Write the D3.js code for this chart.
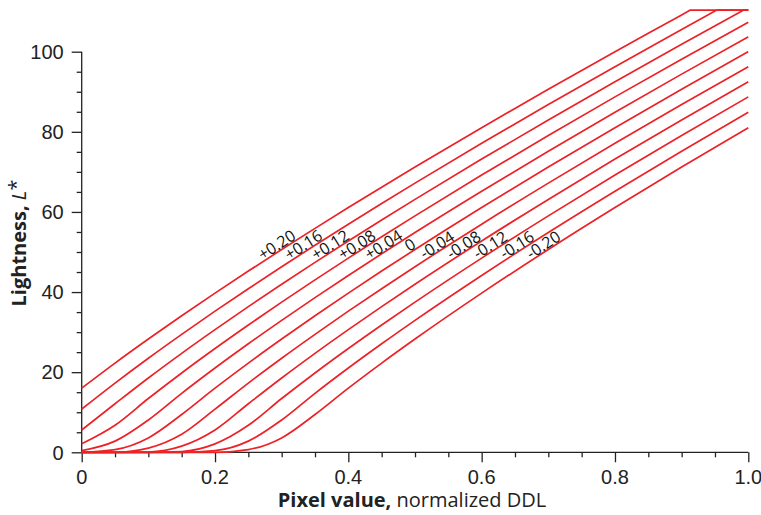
<!DOCTYPE html>
<html>
<head>
<meta charset="utf-8">
<script src="https://cdn.jsdelivr.net/npm/d3@7"></script>
<style>
  html, body { margin: 0; padding: 0; background: #ffffff; }
  svg { display: block; font-family: "Open Sans", "Noto Sans", sans-serif; }
</style>
</head>
<body>
<svg id="chart" width="761" height="515"></svg>
<script>
// ---------------- data ----------------
const pixelValue = [0, 0.05, 0.10, 0.15, 0.20, 0.25, 0.30, 0.35, 0.40, 0.45, 0.50, 0.6, 0.7, 0.8, 0.9, 1.0];
const offsetLabels = ["+0.20", "+0.16", "+0.12", "+0.08", "+0.04", "0", "-0.04", "-0.08", "-0.12", "-0.16", "-0.20"];

const lightnessP20 = [16.01, 22.27, 28.27, 34.09, 39.73, 45.24, 50.62, 55.90, 61.09, 66.18, 71.20, 81.04, 90.62, 100.00, 109.19, 110.4];
const lightnessP16 = [10.78, 17.28, 23.49, 29.45, 35.23, 40.84, 46.32, 51.69, 56.95, 62.11, 67.19, 77.13, 86.81, 96.27, 105.54, 110.4];
const lightnessP12 = [5.57, 12.11, 18.55, 24.70, 30.62, 36.36, 41.95, 47.41, 52.75, 57.99, 63.13, 73.19, 82.97, 92.51, 101.86, 110.4];
const lightnessP08 = [2.11, 6.75, 13.42, 19.80, 25.90, 31.78, 37.49, 43.05, 48.48, 53.80, 59.02, 69.21, 79.09, 88.72, 98.14, 107.37];
const lightnessP04 = [0.40, 2.79, 8.06, 14.72, 21.04, 27.09, 32.94, 38.61, 44.15, 49.55, 54.86, 65.17, 75.17, 84.90, 94.40, 103.70];
const lightnessZ00 = [0, 0.68, 3.60, 9.43, 16.01, 22.27, 28.27, 34.09, 39.73, 45.24, 50.62, 61.09, 71.20, 81.04, 90.62, 100.00];
const lightnessM04 = [0, 0.01, 1.06, 4.52, 10.78, 17.28, 23.49, 29.45, 35.23, 40.84, 46.32, 56.95, 67.19, 77.13, 86.81, 96.27];
const lightnessM08 = [0, 0, 0.08, 1.53, 5.57, 12.11, 18.55, 24.70, 30.62, 36.36, 41.95, 52.75, 63.13, 73.19, 82.97, 92.51];
const lightnessM12 = [0, 0, 0, 0.20, 2.11, 6.75, 13.42, 19.80, 25.90, 31.78, 37.49, 48.48, 59.02, 69.21, 79.09, 88.72];
const lightnessM16 = [0, 0, 0, 0, 0.40, 2.79, 8.06, 14.72, 21.04, 27.09, 32.94, 44.15, 54.86, 65.17, 75.17, 84.90];
const lightnessM20 = [0, 0, 0, 0, 0, 0.68, 3.60, 9.43, 16.01, 22.27, 28.27, 39.73, 50.62, 61.09, 71.20, 81.04];

// pixel value at which a curve reaches the 110.4 ceiling (null = never)
const clipOnset = [0.913, 0.953, 0.993, null, null, null, null, null, null, null, null];
const clipLevel = 110.4;

const xTicks = [0, 0.2, 0.4, 0.6, 0.8, 1.0];
const yTicks = [0, 20, 40, 60, 80, 100];

const allLightness = [lightnessP20, lightnessP16, lightnessP12, lightnessP08, lightnessP04, lightnessZ00,
                      lightnessM04, lightnessM08, lightnessM12, lightnessM16, lightnessM20];

// ---------------- layout ----------------
const svg = d3.select("#chart");
const x = d3.scaleLinear().domain([0, 1]).range([81.7, 748.3]);
const y = d3.scaleLinear().domain([0, 100]).range([452.3, 51.7]);
const axisColor = "#222";
const red = "#ec2227";

// x axis
const xAxis = svg.append("g").attr("transform", `translate(0,${y(0)})`);
xAxis.call(d3.axisBottom(x).tickValues(d3.range(0, 1.0001, 0.05)).tickSize(5).tickFormat(""));
xAxis.call(g => g.selectAll(".tick").filter(d => xTicks.some(t => Math.abs(t - d) < 1e-6))
  .select("line").attr("y2", 10));
xAxis.selectAll("path, line").attr("stroke", axisColor).attr("stroke-width", 1.3);
xAxis.select(".domain").attr("d", `M${x(0)},0H${x(1)}`);
xAxis.selectAll(".tlabel").data(xTicks).join("text")
  .attr("x", d => x(d)).attr("y", 31.5)
  .attr("text-anchor", "middle").attr("font-size", 20).attr("fill", axisColor)
  .text(d => d === 0 ? "0" : d3.format(".1f")(d));

// y axis
const yAxis = svg.append("g").attr("transform", `translate(${x(0)},0)`);
yAxis.call(d3.axisLeft(y).tickValues(d3.range(0, 100.001, 5)).tickSize(5).tickFormat(""));
yAxis.call(g => g.selectAll(".tick").filter(d => yTicks.some(t => Math.abs(t - d) < 1e-6))
  .select("line").attr("x2", -10));
yAxis.selectAll("path, line").attr("stroke", axisColor).attr("stroke-width", 1.3);
yAxis.select(".domain").attr("d", `M0,${y(100)}V${y(0)}`);
yAxis.selectAll(".tlabel").data(yTicks).join("text")
  .attr("x", -18).attr("y", d => y(d)).attr("dy", "0.36em")
  .attr("text-anchor", "end").attr("font-size", 20).attr("fill", axisColor)
  .text(d => d);

// axis titles
const xt = svg.append("text").attr("x", 412).attr("y", 507)
  .attr("text-anchor", "middle").attr("font-size", 20).attr("fill", axisColor);
xt.append("tspan").attr("font-weight", "bold").text("Pixel value,");
xt.append("tspan").text(" normalized DDL");

const yt = svg.append("text").attr("transform", "translate(26,243) rotate(-90)")
  .attr("text-anchor", "middle").attr("font-size", 20).attr("fill", axisColor);
yt.append("tspan").attr("font-weight", "bold").text("Lightness, ");
yt.append("tspan").attr("font-style", "italic").text("L");
yt.append("tspan").attr("dy", -3).text("*");

// curves
const line = d3.line().x(d => x(d[0])).y(d => y(d[1])).curve(d3.curveMonotoneX);
const series = allLightness.map((arr, i) => {
  let pts = pixelValue.map((v, j) => [v, arr[j]]);
  let flat = null;
  if (clipOnset[i] !== null) {
    pts = pts.filter(p => p[0] < clipOnset[i]).concat([[clipOnset[i], clipLevel]]);
    flat = [[clipOnset[i], clipLevel], [pixelValue[pixelValue.length - 1], clipLevel]];
  }
  return { label: offsetLabels[i], pts, flat, raw: arr };
});

svg.append("g").selectAll("path").data(series).join("path")
  .attr("d", d => line(d.pts) + (d.flat ? `L${x(d.flat[1][0])},${y(d.flat[1][1])}` : ""))
  .attr("fill", "none").attr("stroke", red).attr("stroke-width", 1.7)
  .attr("stroke-linejoin", "round");

// curve labels: placed where each curve crosses a lightness level, rotated along it
const labelLevel = 50.4;
const labelG = svg.append("g");
series.forEach(s => {
  const a = s.raw;
  let k = 0;
  while (k < a.length - 1 && a[k + 1] < labelLevel) k++;
  const t = (labelLevel - a[k]) / (a[k + 1] - a[k]);
  const v = pixelValue[k] + t * (pixelValue[k + 1] - pixelValue[k]);
  const px = x(v), py = y(labelLevel);
  const dx = x(pixelValue[k + 1]) - x(pixelValue[k]);
  const dy = y(a[k + 1]) - y(a[k]);
  const ang = Math.atan2(dy, dx);
  const off = 6.7;
  const cx = px + off * Math.sin(ang), cy = py - off * Math.cos(ang);
  labelG.append("text")
    .attr("transform", `translate(${cx},${cy}) rotate(${ang * 180 / Math.PI})`)
    .attr("text-anchor", "middle").attr("dy", "0.36em")
    .attr("font-size", 16).attr("fill", "#111")
    .text(s.label);
});
</script>
</body>
</html>
